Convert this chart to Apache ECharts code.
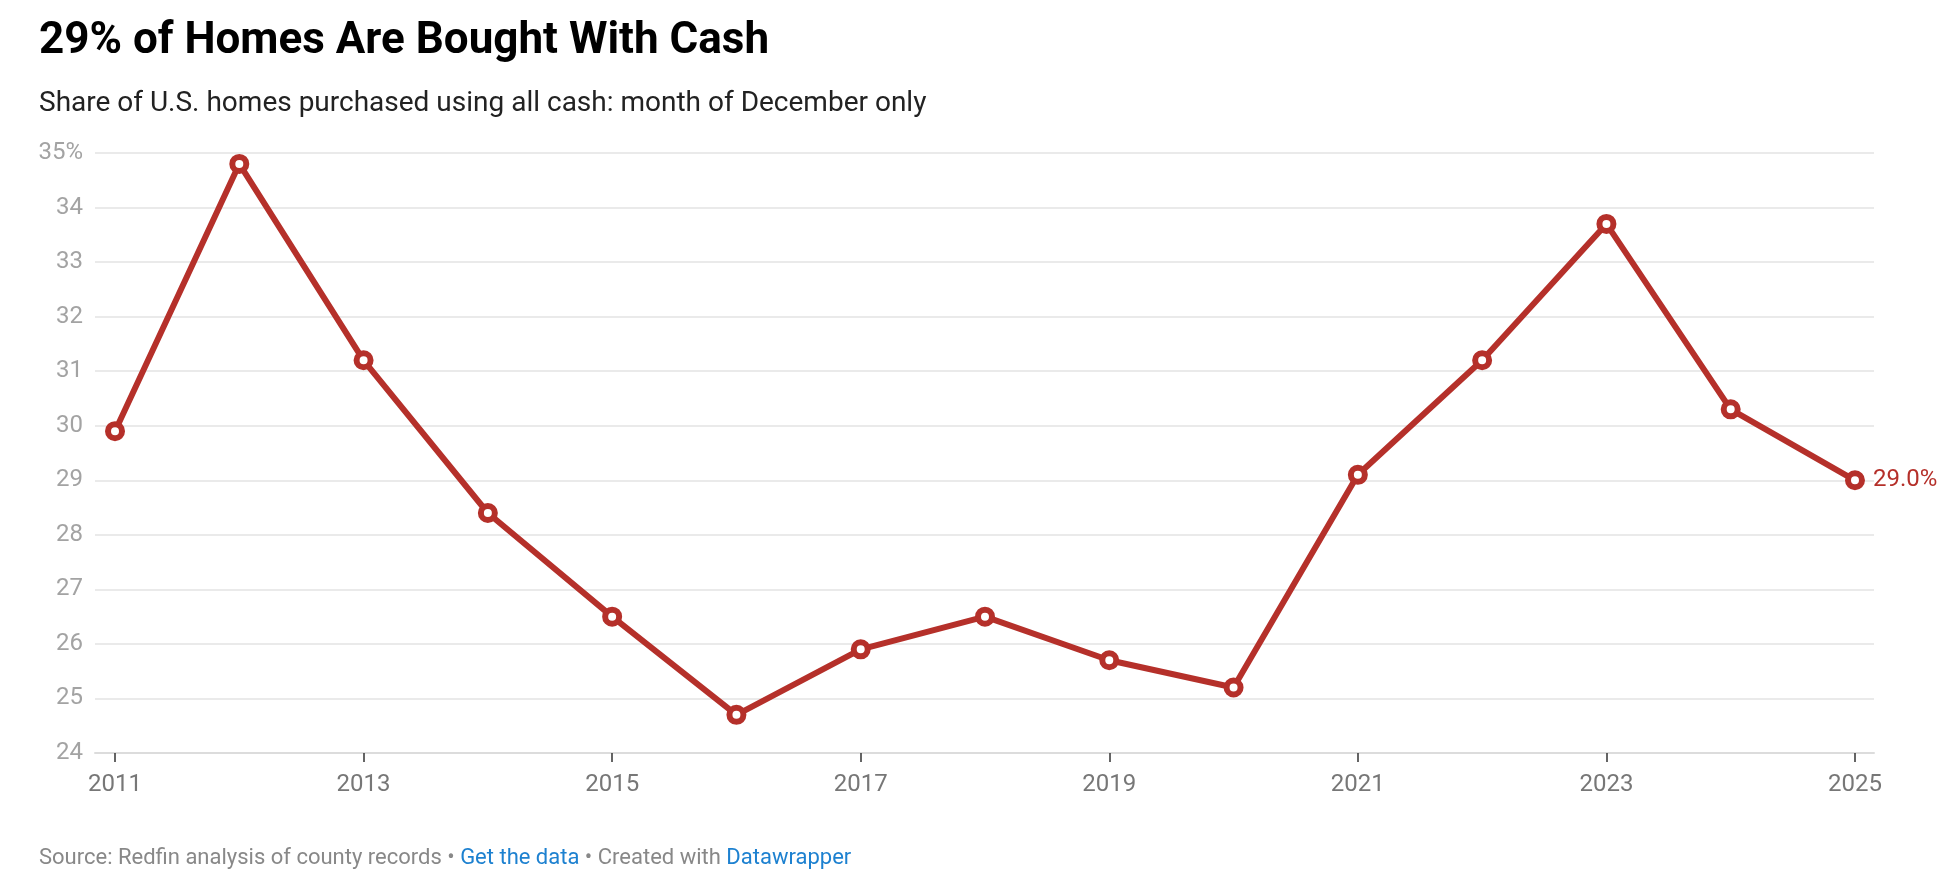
<!DOCTYPE html>
<html>
<head>
  <meta charset="utf-8">
  <script src="https://cdn.jsdelivr.net/npm/echarts@6/dist/echarts.min.js"></script>
  <style>
    html, body { margin: 0; padding: 0; background: #fff; }
    #main { width: 1952px; height: 890px; }
  </style>
</head>
<body>
<div id="main"></div>
<script type="text/javascript">
  // data (December of each year)
  var years = [2011, 2012, 2013, 2014, 2015, 2016, 2017, 2018, 2019, 2020, 2021, 2022, 2023, 2024, 2025];
  var cashShare = [29.9, 34.8, 31.2, 28.4, 26.5, 24.7, 25.9, 26.5, 25.7, 25.2, 29.1, 31.2, 33.7, 30.3, 29.0];
  var yearTicks = [2011, 2013, 2015, 2017, 2019, 2021, 2023, 2025];

  var red = '#b5302a';
  var font = 'Roboto, "Noto Sans", sans-serif';

  var myChart = echarts.init(document.getElementById('main'));
  myChart.setOption({
    backgroundColor: '#fff',
    animation: false,
    textStyle: { fontFamily: font },
    graphic: [
      {
        type: 'text', left: 39, top: 20,
        style: { text: '29% of Homes Are Bought With Cash', font: 'bold 44px ' + font, fill: '#000' }
      },
      {
        type: 'text', left: 39, top: 90,
        style: { text: 'Share of U.S. homes purchased using all cash: month of December only', font: '28px ' + font, fill: '#222' }
      },
      {
        type: 'text', left: 39, top: 847,
        style: {
          text: '{g|Source: Redfin analysis of county records • }{b|Get the data}{g| • Created with }{b|Datawrapper}',
          font: '22px ' + font,
          rich: {
            g: { fill: '#888', fontSize: 22, fontFamily: font },
            b: { fill: '#1d81d0', fontSize: 22, fontFamily: font }
          }
        }
      }
    ],
    grid: { left: 95, right: 78, top: 153, bottom: 137 },
    xAxis: {
      type: 'value',
      min: 2010.839,
      max: 2025.153,
      splitLine: { show: false },
      axisLine: { show: true, lineStyle: { color: '#dcdcdc', width: 2 } },
      axisTick: { show: true, customValues: yearTicks, length: 9, lineStyle: { color: '#333', width: 1.5 } },
      axisLabel: {
        customValues: yearTicks,
        color: '#777', fontSize: 24, margin: 20,
        formatter: function (v) { return String(v); }
      }
    },
    yAxis: {
      type: 'value',
      min: 24,
      max: 35,
      interval: 1,
      axisLine: { show: false },
      axisTick: { show: false },
      splitLine: { lineStyle: { color: '#e3e3e3', width: 1.5 } },
      axisLabel: {
        color: '#a3a3a3', fontSize: 24, margin: 12,
        formatter: function (v) { return v === 35 ? v + '%' : String(v); }
      }
    },
    series: [{
      type: 'line',
      data: years.map(function (y, i) { return [y, cashShare[i]]; }),
      lineStyle: { color: red, width: 6 },
      symbol: 'circle',
      symbolSize: 14,
      itemStyle: { color: '#fff', borderColor: red, borderWidth: 6 },
      endLabel: {
        show: true,
        distance: 18,
        color: red,
        fontSize: 24,
        formatter: function (p) { return p.value[1].toFixed(1) + '%'; }
      }
    }]
  });
</script>
</body>
</html>
